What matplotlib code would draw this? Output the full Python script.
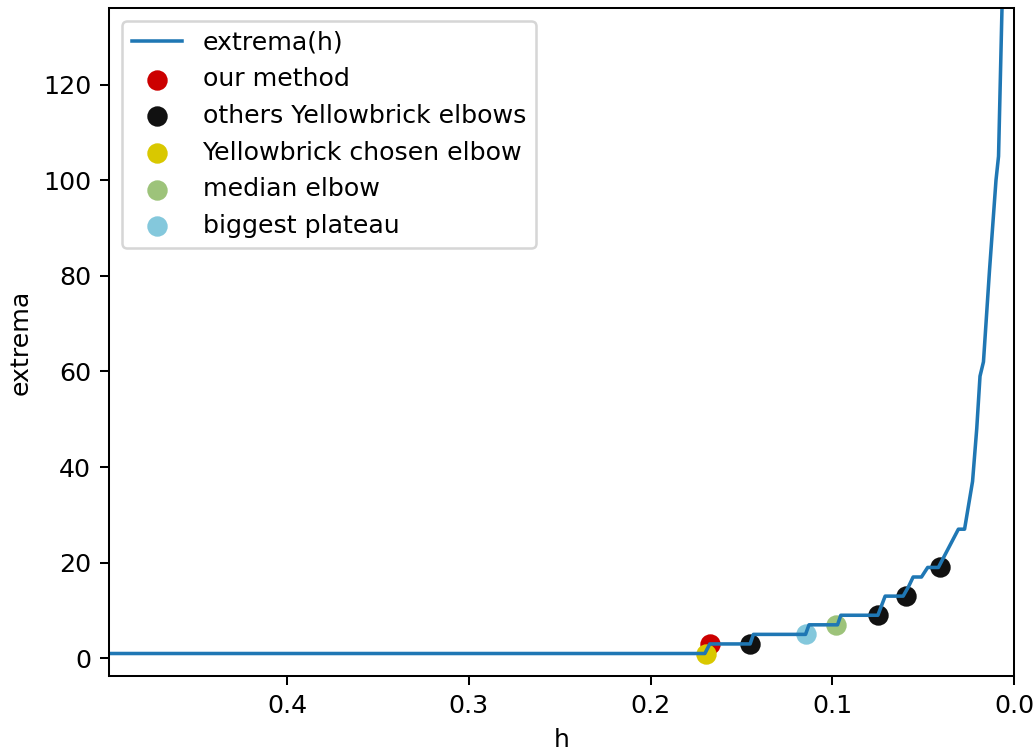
import matplotlib
matplotlib.use("Agg")
import matplotlib.pyplot as plt

# curva extrema(h)
h_vals = [0.500, 0.1701, 0.1674, 0.1452, 0.1434, 0.1147, 0.1128, 0.0971, 0.0953,
          0.0749, 0.0729, 0.0709, 0.0610, 0.0580, 0.0555, 0.0509, 0.0475, 0.0416,
          0.0306, 0.0272, 0.0228, 0.0205, 0.0187, 0.0168, 0.0135, 0.0099, 0.0085,
          0.0066, 0.0030]
extrema_vals = [1, 1, 3, 3, 5, 5, 7, 7, 9,
                9, 11, 13, 13, 15, 17, 17, 19, 19,
                27, 27, 37, 48, 59, 62, 81, 100, 105,
                136, 300]

# pontos marcados
our_h, our_y = [0.1674], [3]
others_h = [0.1452, 0.0747, 0.0595, 0.0405]
others_y = [3, 9, 13, 19]
chosen_h, chosen_y = [0.1696], [1]
median_h, median_y = [0.0982], [7]
plateau_h, plateau_y = [0.1147], [5]

DPI = 182
fig = plt.figure(figsize=(1035 / DPI, 751 / DPI), dpi=DPI)
ax = fig.add_axes([0.1053, 0.0999, 0.8744, 0.8894])

ax.plot(h_vals, extrema_vals, label="extrema(h)", lw=1.4)
ax.scatter(our_h, our_y, s=50, color="#cc0000", label="our method")
ax.scatter(others_h, others_y, s=50, color="#111111", label="others Yellowbrick elbows")
ax.scatter(chosen_h, chosen_y, s=50, color="#d9c800", label="Yellowbrick chosen elbow")
ax.scatter(median_h, median_y, s=50, color="#9dc37a", label="median elbow")
ax.scatter(plateau_h, plateau_y, s=50, color="#84c8dc", label="biggest plateau")

ax.set_xlim(0.498, 0.0)
ax.set_ylim(-3.7, 136)
ax.set_xlabel("h")
ax.set_ylabel("extrema")
ax.legend(loc="upper left")

fig.savefig("out.png", dpi=DPI)
